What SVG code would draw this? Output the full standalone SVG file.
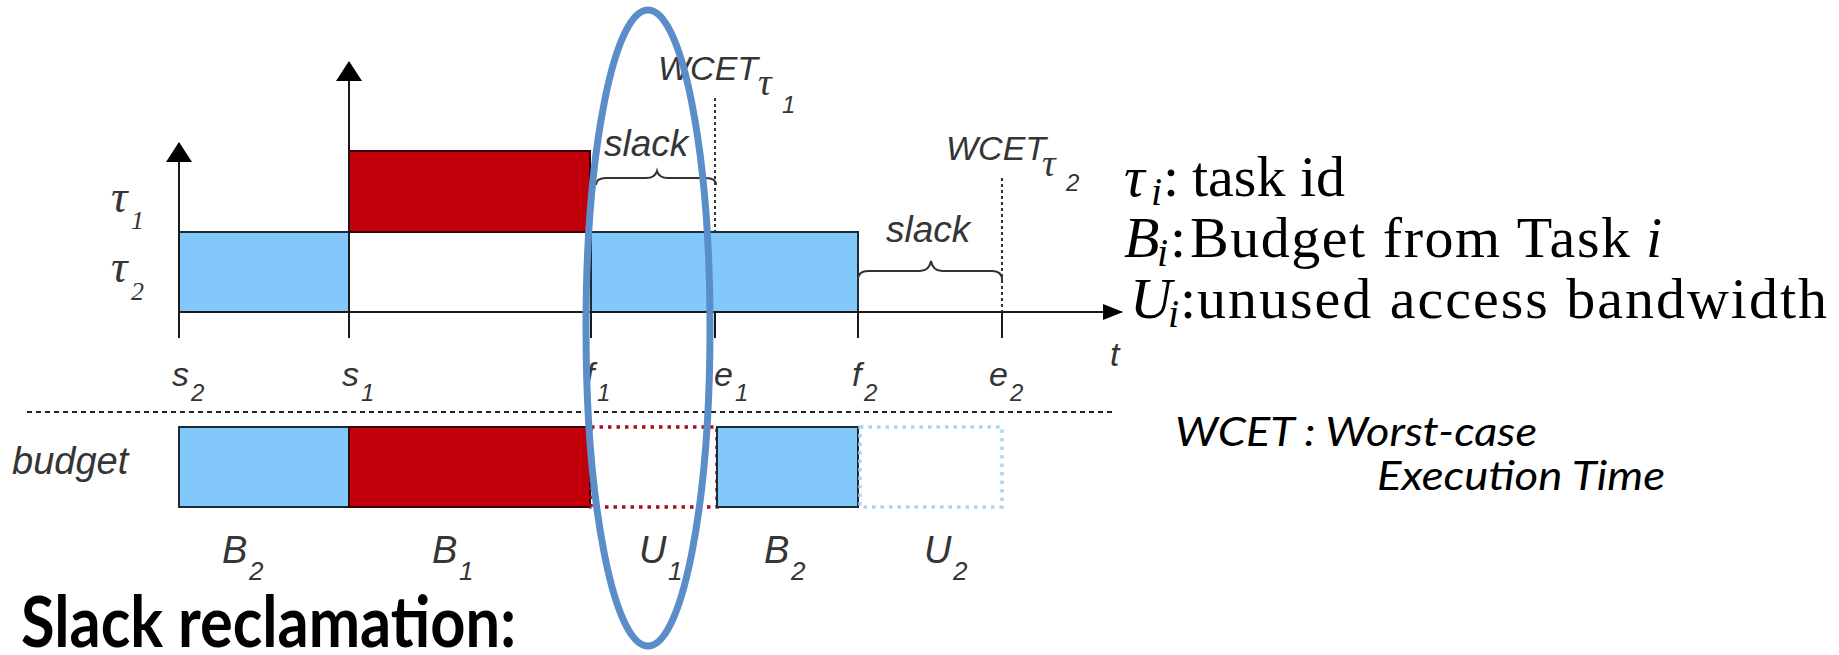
<svg xmlns="http://www.w3.org/2000/svg" width="1839" height="655" viewBox="0 0 1839 655">
<defs>
<marker id="arrV" markerUnits="userSpaceOnUse" markerWidth="20" markerHeight="26" refX="19" refY="13" orient="auto"><path d="M0,0 L20,13 L0,26 z" fill="#000"/></marker>
<marker id="arrH" markerUnits="userSpaceOnUse" markerWidth="20" markerHeight="16" refX="19" refY="8" orient="auto"><path d="M0,0 L20,8 L0,16 z" fill="#000"/></marker>
<style>
.ax{stroke:#1a1a1a;stroke-width:2;fill:none}
.tick{stroke:#1a1a1a;stroke-width:2}
.dot{stroke:#333;stroke-width:2;stroke-dasharray:3 3;fill:none}
.sep{stroke:#222;stroke-width:2;stroke-dasharray:5 4;fill:none}
.brace{stroke:#333;stroke-width:2;fill:none}
.blue{fill:#82c8fb;stroke:#1c2a35;stroke-width:2}
.red{fill:#c1000c;stroke:#3a0005;stroke-width:2}
.ured{fill:none;stroke:#a3101f;stroke-width:3.5;stroke-dasharray:3.5 5}
.ublue{fill:none;stroke:#a9d5f2;stroke-width:3.5;stroke-dasharray:3.5 5}
.lbl{font-family:"Liberation Sans",Arial,sans-serif;font-style:italic;fill:#353535}
.gr{font-family:"Liberation Serif","Times New Roman",serif;font-style:italic;fill:#353535}
.lg{font-family:"Liberation Serif","Times New Roman",serif;fill:#000;font-size:58px}
.lgi{font-family:"Liberation Serif","Times New Roman",serif;font-style:italic;fill:#000}
.note{font-family:Lato,"Open Sans",sans-serif;font-style:italic;fill:#000;font-size:40px}
</style>
</defs>
<rect width="1839" height="655" fill="#fff"/>

<g id="task-bars">
<rect class="blue" x="179" y="232" width="170" height="80"/>
<rect class="red" x="349" y="151" width="241" height="81"/>
<rect class="blue" x="591" y="232" width="267" height="80"/>
</g>

<g id="budget-bars">
<rect class="blue" x="179" y="427" width="170" height="80"/>
<rect class="red" x="349" y="427" width="241" height="80"/>
<rect class="ured" x="591" y="427" width="126" height="80"/>
<rect class="blue" x="717" y="427" width="141" height="80"/>
<rect class="ublue" x="860" y="427" width="142" height="80"/>
</g>

<g id="connectors">
<line class="ax" x1="179" y1="338" x2="179" y2="143" marker-end="url(#arrV)"/>
<line class="ax" x1="349" y1="338" x2="349" y2="62" marker-end="url(#arrV)"/>
<line class="ax" x1="179" y1="312" x2="1122" y2="312" marker-end="url(#arrH)"/>
<line class="tick" x1="591" y1="312" x2="591" y2="338"/>
<line class="tick" x1="715" y1="312" x2="715" y2="338"/>
<line class="tick" x1="858" y1="312" x2="858" y2="338"/>
<line class="tick" x1="1002" y1="312" x2="1002" y2="338"/>
<line class="dot" x1="715" y1="98" x2="715" y2="232"/>
<line class="dot" x1="1002" y1="178" x2="1002" y2="312"/>
<line class="sep" x1="27" y1="412" x2="1115" y2="412"/>
<path class="brace" d="M596,185 Q596,178 606,178 L646,178 Q655,178 657,171 Q659,178 668,178 L706,178 Q716,178 716,185"/>
<path class="brace" d="M858,280 Q858,271 868,271 L920,271 Q929,271 931,261 Q933,271 942,271 L992,271 Q1002,271 1002,280"/>
</g>

<g id="labels-tasks">
<text class="gr" x="111" y="212" font-size="46">τ</text><text class="gr" x="131" y="229" font-size="26">1</text>
<text class="gr" x="111" y="282" font-size="46">τ</text><text class="gr" x="131" y="300" font-size="26">2</text>
</g>

<g id="labels-time">
<text class="lbl" x="172" y="386" font-size="34">s</text><text class="lbl" x="191" y="401" font-size="24">2</text>
<text class="lbl" x="342" y="386" font-size="34">s</text><text class="lbl" x="361" y="401" font-size="24">1</text>
<text class="lbl" x="585" y="386" font-size="34">f</text><text class="lbl" x="597" y="401" font-size="24">1</text>
<text class="lbl" x="714" y="386" font-size="34">e</text><text class="lbl" x="735" y="401" font-size="24">1</text>
<text class="lbl" x="852" y="386" font-size="34">f</text><text class="lbl" x="864" y="401" font-size="24">2</text>
<text class="lbl" x="989" y="386" font-size="34">e</text><text class="lbl" x="1010" y="401" font-size="24">2</text>
<text class="lbl" x="1110" y="366" font-size="34">t</text>
</g>

<g id="labels-wcet">
<text class="lbl" x="658" y="80" font-size="34">WCET</text><text class="gr" x="758" y="95" font-size="38">τ</text><text class="lbl" x="782" y="113" font-size="24">1</text>
<text class="lbl" x="946" y="160" font-size="34">WCET</text><text class="gr" x="1042" y="176" font-size="38">τ</text><text class="lbl" x="1066" y="191" font-size="24">2</text>
<text class="lbl" x="604" y="156" font-size="37">slack</text>
<text class="lbl" x="886" y="242" font-size="37">slack</text>
</g>

<g id="labels-budget">
<text class="lbl" x="12" y="474" font-size="38">budget</text>
<text class="lbl" x="222" y="563" font-size="38">B</text><text class="lbl" x="249" y="580" font-size="26">2</text>
<text class="lbl" x="432" y="563" font-size="38">B</text><text class="lbl" x="459" y="580" font-size="26">1</text>
<text class="lbl" x="639" y="563" font-size="38">U</text><text class="lbl" x="668" y="580" font-size="26">1</text>
<text class="lbl" x="764" y="563" font-size="38">B</text><text class="lbl" x="791" y="580" font-size="26">2</text>
<text class="lbl" x="924" y="563" font-size="38">U</text><text class="lbl" x="953" y="580" font-size="26">2</text>
</g>

<g id="legend">
<text class="lgi" x="1124" y="196" font-size="58">τ</text><text class="lgi" x="1151" y="205" font-size="40">i</text><text class="lg" x="1163" y="196">:</text>
<text class="lg" x="1192" y="196">task id</text>
<text class="lgi" x="1124" y="257" font-size="58">B</text><text class="lgi" x="1157" y="266" font-size="40">i</text><text class="lg" x="1170" y="257">:</text>
<text class="lg" x="1190" y="257" textLength="440" lengthAdjust="spacing">Budget from Task</text><text class="lgi" x="1646" y="257" font-size="58">i</text>
<text class="lgi" x="1130" y="318" font-size="58">U</text><text class="lgi" x="1168" y="327" font-size="40">i</text><text class="lg" x="1180" y="318">:</text>
<text class="lg" x="1197" y="318" textLength="630" lengthAdjust="spacing">unused access bandwidth</text>
</g>

<g id="note">
<text class="note" x="1175" y="446" textLength="362" lengthAdjust="spacingAndGlyphs">WCET : Worst-case</text>
<text class="note" x="1377" y="490" textLength="288" lengthAdjust="spacingAndGlyphs">Execution Time</text>
</g>

<g id="title">
<text x="21" y="647" font-family="Lato,'Open Sans',sans-serif" font-weight="bold" font-size="70" fill="#000" textLength="495" lengthAdjust="spacingAndGlyphs">Slack reclamation:</text>
</g>

<g id="highlight">
<ellipse cx="648" cy="328" rx="62" ry="318" fill="none" stroke="#5b8ec9" stroke-width="7"/>
</g>
</svg>
